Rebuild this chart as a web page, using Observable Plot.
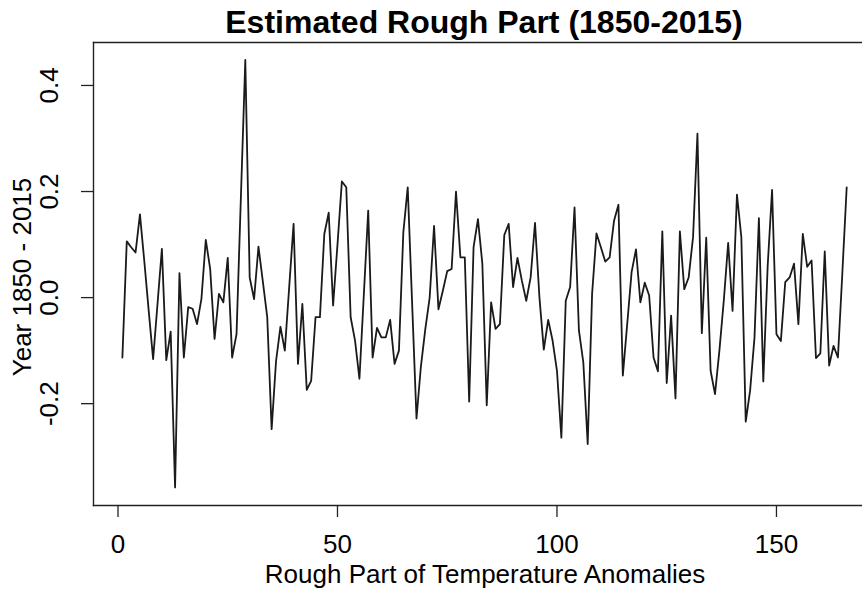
<!DOCTYPE html>
<html>
<head>
<meta charset="utf-8">
<script src="https://cdn.jsdelivr.net/npm/d3@7"></script>
<script src="https://cdn.jsdelivr.net/npm/@observablehq/plot@0.6"></script>
<style>
  html, body { margin: 0; padding: 0; background: #fff; }
  #wrap { position: relative; width: 862px; height: 590px; overflow: hidden; }
  #title { position: absolute; left: 484px; top: 0; transform: translateX(-50%);
           font: bold 32px "Liberation Sans", Arial, sans-serif; line-height: 44px; white-space: nowrap; color: #000; }
  #chart { position: absolute; left: 0; top: 40px; }
</style>
</head>
<body>
<div id="wrap">
  <div id="title">Estimated Rough Part (1850-2015)</div>
  <div id="chart"></div>
</div>
<script>
const titleText = "Estimated Rough Part (1850-2015)";
const xLabel = "Rough Part of Temperature Anomalies";
const yLabel = "Year 1850 - 2015";
const xTicks = [0, 50, 100, 150];
const yTicks = [-0.2, 0.0, 0.2, 0.4];

// Estimated rough part, one value per year (1850-2015), index 1..166
const values = [
  -0.113, 0.106, 0.095, 0.085, 0.157, 0.068, -0.025, -0.116, -0.012, 0.092,
  -0.118, -0.064, -0.358, 0.046, -0.113, -0.018, -0.021, -0.050, -0.003, 0.109,
  0.054, -0.078, 0.007, -0.009, 0.075, -0.113, -0.069, 0.190, 0.448, 0.038,
  -0.003, 0.096, 0.030, -0.037, -0.248, -0.120, -0.055, -0.100, 0.020, 0.139,
  -0.125, -0.012, -0.174, -0.157, -0.037, -0.037, 0.120, 0.160, -0.015, 0.100,
  0.219, 0.208, -0.037, -0.081, -0.153, 0.005, 0.164, -0.113, -0.057, -0.075,
  -0.075, -0.042, -0.125, -0.100, 0.123, 0.208, -0.010, -0.228, -0.130, -0.060,
  0.000, 0.135, -0.022, 0.013, 0.050, 0.054, 0.200, 0.076, 0.076, -0.196,
  0.095, 0.148, 0.064, -0.203, -0.009, -0.059, -0.050, 0.118, 0.139, 0.020,
  0.075, 0.032, -0.006, 0.038, 0.141, 0.001, -0.098, -0.042, -0.081, -0.138,
  -0.264, -0.006, 0.020, 0.170, -0.062, -0.122, -0.276, 0.007, 0.121, 0.095,
  0.068, 0.076, 0.145, 0.175, -0.147, -0.050, 0.048, 0.091, -0.009, 0.028,
  0.004, -0.113, -0.139, 0.125, -0.161, -0.034, -0.190, 0.125, 0.016, 0.038,
  0.114, 0.309, -0.067, 0.113, -0.138, -0.182, -0.100, -0.006, 0.103, -0.025,
  0.194, 0.114, -0.234, -0.175, -0.075, 0.150, -0.158, 0.060, 0.203, -0.069,
  -0.082, 0.029, 0.038, 0.064, -0.050, 0.120, 0.058, 0.070, -0.114, -0.105,
  0.087, -0.128, -0.091, -0.113, 0.045, 0.208
];
const index = values.map((_, i) => i + 1);
const data = values.map((v, i) => ({idx: index[i], v}));

const FONT = "'Liberation Sans', Arial, sans-serif";
const FS = 26;
const INK = "#222";

const chart = Plot.plot({
  width: 862,
  height: 550,
  marginTop: 2,
  marginLeft: 93,
  marginRight: 0,
  marginBottom: 85,
  style: {fontFamily: FONT, fontSize: FS + "px", color: "#000", background: "#fff"},
  x: {domain: [-5.58, 169.6], label: null},
  y: {domain: [-0.392, 0.481], label: null},
  marks: [
    Plot.frame({anchor: "top", stroke: INK, strokeWidth: 1.4}),
    Plot.frame({anchor: "left", stroke: INK, strokeWidth: 1.4}),
    Plot.frame({anchor: "bottom", stroke: INK, strokeWidth: 1.4}),
    Plot.axisX({ticks: xTicks, tickSize: 12, tickPadding: 17, fontSize: FS, label: null,
                stroke: INK, strokeWidth: 1.3, tickFormat: d => String(d)}),
    Plot.axisY({ticks: yTicks, tickSize: 12, tickPadding: 24, tickRotate: -90, fontSize: FS, label: null,
                stroke: INK, strokeWidth: 1.3, tickFormat: d => d.toFixed(1)}),
    Plot.line(data, {x: "idx", y: "v", stroke: "#1a1a1a", strokeWidth: 1.8}),
    Plot.text([xLabel], {frameAnchor: "bottom", text: d => d, dx: 7, dy: 77, lineAnchor: "bottom",
                         fontSize: FS, fill: "#000"}),
    Plot.text([yLabel], {frameAnchor: "left", text: d => d, dx: -63, dy: 3, rotate: -90,
                         lineAnchor: "bottom", textAnchor: "middle", fontSize: FS, fill: "#000"})
  ]
});
document.getElementById("chart").appendChild(chart);
</script>
</body>
</html>
